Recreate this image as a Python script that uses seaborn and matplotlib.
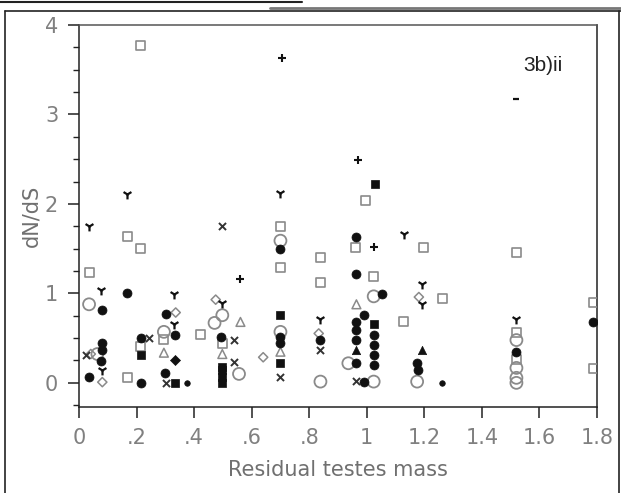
import matplotlib
matplotlib.use("Agg")
import matplotlib.pyplot as plt
import seaborn as sns
from matplotlib.lines import Line2D
from matplotlib.ticker import FixedLocator, MultipleLocator

# ---------------- data (one group per marker type) ----------------
sq_x = [0.168, 0.214, 0.035, 0.423, 0.295, 0.498, 0.214, 0.168, 0.995, 0.700, 0.700, 0.961,
        1.198, 0.839, 0.839, 1.024, 1.264, 1.128, 1.52, 1.52, 1.52, 1.788, 1.788, 0.214]
sq_y = [1.633, 1.497, 1.237, 0.541, 0.486, 0.441, 0.403, 0.059, 2.041, 1.744, 1.286, 1.514,
        1.508, 1.403, 1.119, 1.189, 0.941, 0.681, 1.459, 0.559, 0.256, 0.903, 0.163, 3.774]

fc_x = [0.168, 0.081, 0.301, 0.332, 0.214, 0.492, 0.081, 0.081, 0.075, 0.035, 0.217, 0.298,
        0.698, 0.961, 0.961, 1.053, 0.700, 0.700, 0.839, 0.990, 0.961, 0.961, 0.964, 0.964,
        1.024, 1.024, 1.024, 1.024, 1.175, 1.179, 1.52, 1.786, 0.990]
fc_y = [1.003, 0.811, 0.774, 0.533, 0.497, 0.514, 0.448, 0.367, 0.248, 0.070, 0.000, 0.114,
        1.497, 1.633, 1.219, 0.989, 0.514, 0.444, 0.478, 0.756, 0.681, 0.589, 0.478, 0.222,
        0.533, 0.422, 0.311, 0.200, 0.219, 0.144, 0.348, 0.681, 0.010]

small_fc_x = [0.374, 1.26]
small_fc_y = [0.0, 0.0]

oc_x = [0.035, 0.498, 0.471, 0.295, 0.064, 0.556, 0.700, 1.024, 0.700, 0.839, 0.936, 1.024,
        1.175, 1.52, 1.52, 1.52, 1.52]
oc_y = [0.878, 0.756, 0.670, 0.570, 0.322, 0.100, 1.589, 0.967, 0.570, 0.014, 0.219, 0.014,
        0.014, 0.478, 0.167, 0.056, 0.000]

tri_x = [0.168, 0.035, 0.075, 0.330, 0.498, 0.330, 0.081, 0.700, 1.131, 1.192, 1.192, 0.839, 1.52]
tri_y = [2.108, 1.756, 1.041, 0.989, 0.892, 0.663, 0.144, 2.119, 1.663, 1.108, 0.886, 0.719, 0.719]

xm_x = [0.498, 0.243, 0.538, 0.023, 0.538, 0.301, 0.700, 0.839, 0.964]
xm_y = [1.756, 0.497, 0.478, 0.311, 0.237, 0.000, 0.070, 0.367, 0.026]

plus_x = [0.561, 0.969, 1.024, 0.704]
plus_y = [1.163, 2.486, 1.514, 3.633]

otri_x = [0.561, 0.295, 0.498, 0.964, 0.700]
otri_y = [0.681, 0.337, 0.322, 0.878, 0.348]

odia_x = [0.475, 0.336, 0.041, 0.081, 1.181, 0.833, 0.640]
odia_y = [0.930, 0.786, 0.322, 0.008, 0.959, 0.552, 0.286]

fdia_x = [0.332]
fdia_y = [0.256]

fsq_x = [0.214, 0.332, 0.498, 0.498, 0.498, 0.498, 1.028, 0.700, 0.700, 1.024]
fsq_y = [0.311, 0.000, 0.181, 0.144, 0.070, 0.000, 2.219, 0.756, 0.219, 0.663]

ftri_x = [0.964, 1.192]
ftri_y = [0.367, 0.367]

dash_x = [1.517]
dash_y = [3.178]

x_ticks = [0, 0.2, 0.4, 0.6, 0.8, 1.0, 1.2, 1.4, 1.6, 1.8]
x_ticklabels = ["0", ".2", ".4", ".6", ".8", "1", "1.2", "1.4", "1.6", "1.8"]
y_ticks = [0, 1, 2, 3, 4]
y_ticklabels = ["0", "1", "2", "3", "4"]

# ---------------- figure ----------------
sns.set_style("white")
plt.rcParams["font.family"] = ["DejaVu Sans"]

W, H = 621, 493
fig = plt.figure(figsize=(W / 100, H / 100), dpi=100)
ax = fig.add_axes([79 / W, 1 - 407 / H, (597 - 79) / W, (407 - 25) / H])

GREY = "#8a8a8a"
DARK = "#111111"

def scat(x, y, marker, s, fill, edge, lw=1.1):
    sns.scatterplot(x=x, y=y, marker=marker, s=s, color=edge, facecolor=fill,
                    edgecolor=edge, linewidth=lw, ax=ax, legend=False, zorder=3)

scat(sq_x, sq_y, "s", 42, "none", GREY, 1.2)
scat(oc_x, oc_y, "o", 74, "none", GREY, 1.3)
scat(otri_x, otri_y, "^", 40, "none", GREY, 1.1)
scat(odia_x, odia_y, "D", 22, "none", GREY, 1.1)
scat(fc_x, fc_y, "o", 42, DARK, DARK, 0.5)
scat(small_fc_x, small_fc_y, "o", 16, DARK, DARK, 0.5)
scat(fsq_x, fsq_y, "s", 36, DARK, DARK, 0.5)
scat(fdia_x, fdia_y, "D", 26, DARK, DARK, 0.5)
scat(ftri_x, ftri_y, "^", 36, DARK, DARK, 0.5)
scat(tri_x, tri_y, "1", 50, DARK, DARK, 1.6)
scat(xm_x, xm_y, "x", 26, "#333333", "#333333", 1.4)
scat(plus_x, plus_y, "+", 26, DARK, DARK, 1.5)
scat(dash_x, dash_y, "_", 20, DARK, DARK, 1.6)

ax.set_xlim(0, 1.8)
ax.set_ylim(-0.27, 4.0)

ax.xaxis.set_major_locator(FixedLocator(x_ticks))
ax.set_xticklabels(x_ticklabels)
ax.yaxis.set_major_locator(FixedLocator(y_ticks))
ax.set_yticklabels(y_ticklabels)
ax.yaxis.set_minor_locator(MultipleLocator(0.25))

ax.tick_params(axis="x", which="major", direction="out", length=8, width=1.1,
               colors="#222222", labelcolor="#808080", labelsize=15, pad=7, bottom=True)
ax.tick_params(axis="y", which="major", direction="out", length=8, width=1.1,
               colors="#222222", labelcolor="#808080", labelsize=15, pad=7, left=True)
ax.tick_params(axis="y", which="minor", direction="out", length=4, width=1.0,
               colors="#222222", left=True)

for side in ["left", "right", "top", "bottom"]:
    ax.spines[side].set_visible(True)
    ax.spines[side].set_color("#222222")
    ax.spines[side].set_linewidth(1.1)
ax.spines["top"].set_color("#555555")

ax.set_xlabel("Residual testes mass", fontsize=15, color="#707070", labelpad=9)
ax.set_ylabel("dN/dS", fontsize=15, color="#707070")
ax.yaxis.set_label_coords(-0.073, 0.5)

ax.text(0.896, 0.895, "3b)ii", transform=ax.transAxes, ha="center", va="center",
        fontsize=15, family=["Liberation Sans", "DejaVu Sans"], color="#222222")

# outer scan frame
def fline(x0, y0, x1, y1, color="#222222", lw=1.2):
    fig.add_artist(Line2D([x0 / W, x1 / W], [1 - y0 / H, 1 - y1 / H],
                          transform=fig.transFigure, color=color, linewidth=lw))

fline(4.5, 11, 4.5, 493)
fline(4.5, 11, 621, 11)
fline(619, 11, 619, 493)
fline(0, 1.5, 302, 1.5, "#222222", 1.5)
fline(270, 7.5, 621, 7.5, "#777777", 2.0)

fig.savefig("out.png", dpi=100)
